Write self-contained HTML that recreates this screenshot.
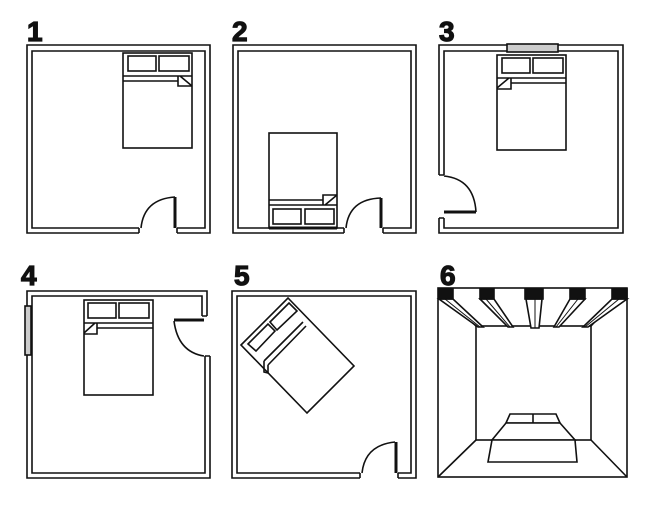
<!DOCTYPE html>
<html><head><meta charset="utf-8"><style>
html,body{margin:0;padding:0;background:#fff;}
svg{display:block}
text{font-family:"Liberation Sans",sans-serif;font-weight:bold;font-size:28px;fill:#111;stroke:#111;stroke-width:1.2}
</style></head><body>
<svg width="649" height="505" viewBox="0 0 649 505" xmlns="http://www.w3.org/2000/svg">
<text x="27" y="41">1</text>
<text x="232" y="41">2</text>
<text x="439" y="41">3</text>
<text x="21" y="285">4</text>
<text x="234" y="285">5</text>
<text x="440" y="285">6</text>

<g fill="none" stroke="#111" stroke-width="1.6">
<!-- Room 1 -->
<path d="M139 233 H27 V45 H210 V233 H177 M139 228 H32 V51 H205 V228 H177 M139 228 V233 M177 228 V233"/>
<rect x="123" y="53" width="69" height="95"/>
<rect x="128" y="56" width="28" height="15"/><rect x="159" y="56" width="30" height="15"/>
<path d="M123 76 H192 M123 81 H178 M178 76 V86 H192 M180 76 L192 86"/>
<path d="M141 228 Q144 199 175 197"/>
<path d="M175 197 V228" stroke-width="3"/>

<!-- Room 2 -->
<path d="M344 233 H233 V45 H416 V233 H383 M344 228 H238 V51 H411 V228 H383 M344 228 V233 M383 228 V233"/>
<rect x="269" y="133" width="68" height="95"/>
<rect x="273" y="209" width="28" height="15"/><rect x="305" y="209" width="29" height="15"/>
<path d="M269 205 H337 M269 200 H323 M323 205 V195 H337 M325 205 L337 195"/>
<path d="M269 228 H337" stroke-width="3"/>
<path d="M346 228 Q349 199 381 198"/>
<path d="M381 198 V228" stroke-width="3"/>

<!-- Room 3 -->
<path d="M439 175 V45 H623 V233 H439 V218 M444 175 V51 H618 V228 H444 V218 M439 175 H444 M439 218 H444"/>
<rect x="507" y="44" width="51" height="8" fill="#ccc"/>
<rect x="497" y="55" width="69" height="95"/>
<rect x="502" y="58" width="28" height="15"/><rect x="533" y="58" width="30" height="15"/>
<path d="M497 78 H566 M511 83 H566 M511 78 V89 H497 M509 78 L497 88"/>
<path d="M444 176 Q474 179 476 212"/>
<path d="M444 212 H476" stroke-width="3"/>

<!-- Room 4 -->
<path d="M207 316 V291 H27 V478 H210 V356 M202 316 V296 H32 V473 H205 V356 M202 316 H207 M205 356 H210"/>
<rect x="25" y="306" width="6" height="49" fill="#ccc"/>
<rect x="84" y="300" width="69" height="95"/>
<rect x="88" y="303" width="28" height="15"/><rect x="119" y="303" width="30" height="15"/>
<path d="M84 323 H153 M97 328 H153 M97 323 V334 H84 M95 323 L84 333"/>
<path d="M174 321 Q178 352 204 356"/>
<path d="M174 320 H204" stroke-width="3"/>

<!-- Room 5 -->
<path d="M360 478 H232 V291 H416 V478 H398 M360 473 H237 V296 H411 V473 H398 M360 473 V478 M398 473 V478"/>
<polygon points="241,345 288,298 354,366 307,413"/>
<polygon points="248,344 268,324 275,331 256,351"/>
<polygon points="270,322 289,303 297,311 277,330"/>
<path d="M264 361 L303 322 M268 365 L306 326 M264 361 V372 L268 373 V365"/>
<path d="M362 473 Q365 445 395 442"/>
<path d="M396 442 V473" stroke-width="3"/>

<!-- Room 6 -->
<rect x="438" y="288" width="189" height="189"/>
<rect x="476" y="326" width="115" height="114"/>
<path d="M438 477 L476 440 M627 477 L591 440 M438 288 L476 326 M627 288 L591 326"/>
<g fill="#fff">
<polygon points="439,299 453,299 483,327 478,327"/>
<polygon points="480,299 494,299 513,327 508,327"/>
<polygon points="526,299 542,299 539,328 531,328"/>
<polygon points="570,299 585,299 559,327 554,327"/>
<polygon points="612,299 627,299 588,327 583,327"/>
</g>
<g fill="#111">
<rect x="439" y="289" width="14" height="10"/>
<rect x="480" y="289" width="14" height="10"/>
<rect x="525" y="289" width="18" height="10"/>
<rect x="570" y="289" width="15" height="10"/>
<rect x="612" y="289" width="15" height="10"/>
</g>
<path d="M445 299 L480 327 M486 299 L510 327 M535 299 V328 M578 299 L556 327 M619 299 L585 327" stroke-width="1"/>
<polygon points="510,414 556,414 560,423 506,423" fill="#fff"/>
<path d="M533 414 V423"/>
<polygon points="506,423 560,423 575,440 492,440" fill="#fff"/>
<polygon points="492,440 575,440 577,462 488,462" fill="#fff"/>
</g>
</svg>
</body></html>
